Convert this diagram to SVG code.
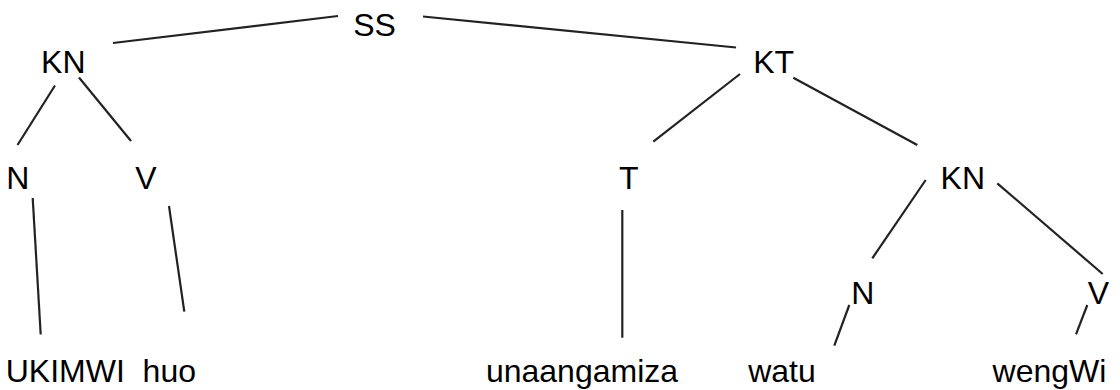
<svg xmlns="http://www.w3.org/2000/svg" width="1120" height="390" viewBox="0 0 1120 390">
<style>
text{font-family:"Liberation Sans",Arial,Helvetica,sans-serif;font-size:32px;fill:#000;text-anchor:middle}
.e line{stroke:#222;stroke-width:2.2;stroke-linecap:butt}
</style>
<rect width="1120" height="390" fill="#fff"/>
<g class="e" id="connectors">
<line x1="338" y1="16" x2="113" y2="43"/>
<line x1="423" y1="16.5" x2="736" y2="47.5"/>
<line x1="55" y1="85.5" x2="17.5" y2="145"/>
<line x1="79" y1="77.5" x2="131" y2="141"/>
<line x1="32.7" y1="198" x2="40.7" y2="334.5"/>
<line x1="169" y1="206" x2="184.3" y2="311.7"/>
<line x1="740" y1="74" x2="653.3" y2="141.7"/>
<line x1="793.3" y1="77.7" x2="917.3" y2="145"/>
<line x1="622.3" y1="210" x2="622.3" y2="337.7"/>
<line x1="925.7" y1="180" x2="872.3" y2="258.3"/>
<line x1="997.3" y1="183.3" x2="1102.7" y2="274"/>
<line x1="849.3" y1="305" x2="834.3" y2="345.7"/>
<line x1="1087.3" y1="305" x2="1076" y2="334.3"/>
</g>
<g id="n-SS"><text x="374.5" y="36">SS</text></g>
<g id="n-KN1"><text x="63.3" y="73.3">KN</text></g>
<g id="n-N1"><text x="17.8" y="189">N</text></g>
<g id="n-V1"><text x="146" y="189">V</text></g>
<g id="n-UKIMWI"><text x="65.3" y="381.5">UKIMWI</text></g>
<g id="n-huo"><text x="169.3" y="381.5">huo</text></g>
<g id="n-KT"><text x="773.7" y="73.3">KT</text></g>
<g id="n-T"><text x="628.8" y="189">T</text></g>
<g id="n-KN2"><text x="962.8" y="189">KN</text></g>
<g id="n-unaangamiza"><text x="582" y="381.5">unaangamiza</text></g>
<g id="n-N2"><text x="862.7" y="304.3">N</text></g>
<g id="n-V2"><text x="1098.3" y="304.3">V</text></g>
<g id="n-watu"><text x="782" y="381.5">watu</text></g>
<g id="n-wengWi"><text x="1049.5" y="381.5">wengWi</text></g>
</svg>
